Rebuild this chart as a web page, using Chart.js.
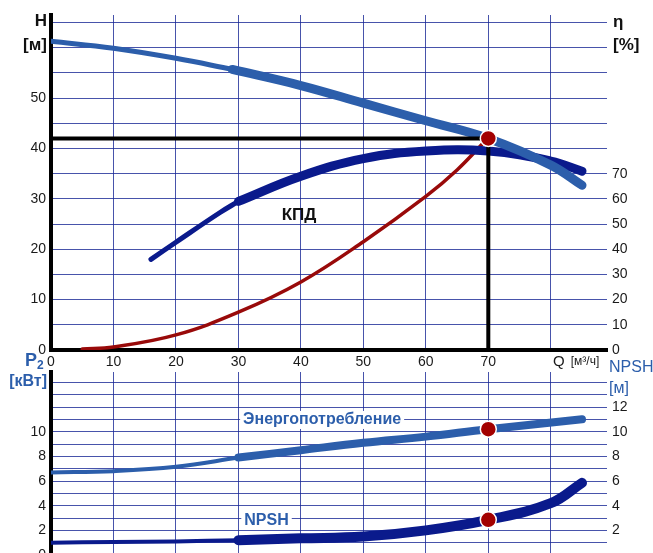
<!DOCTYPE html>
<html>
<head>
<meta charset="utf-8">
<script src="https://cdn.jsdelivr.net/npm/chart.js@4.4.0/dist/chart.umd.min.js"></script>
<style>
html, body { margin: 0; padding: 0; background: #fff; overflow: hidden; width: 653px; height: 553px; }
#topChart { position: absolute; left: 0; top: 0; }
#bottomChart { position: absolute; left: 0; top: 345px; }
</style>
</head>
<body>
<canvas id="topChart" width="653" height="375"></canvas>
<canvas id="bottomChart" width="653" height="230"></canvas>
<script>
// Flow axis (Q, m3/h)
const qMax = 89;
const qLabels = [0, 10, 20, 30, 40, 50, 60, 70];

// Head curve H(Q), m: thin start then thick working range
const headThinQ = [0, 10, 20, 29];
const headThinH = [61.3, 59.9, 57.9, 55.7];
const headQ = [29, 40, 50, 60, 70, 80, 85];
const headH = [55.7, 52.5, 49.0, 45.5, 42.0, 36.7, 32.7];

// Efficiency curve (КПД), %
const effThinQ = [16, 20, 27, 30];
const effThin = [36, 42.8, 54.5, 59];
const effQ = [30, 40, 50, 60, 70, 80, 85];
const eff = [59, 69, 76, 79, 79, 75, 71];

// Red system curve (on the % axis)
const sysQ = [5, 10, 20, 30, 40, 50, 60, 65, 69.5];
const sysV = [0.4, 1.2, 6, 15, 27, 43, 61, 71.5, 83];

// Duty point
const dutyQ = 70;
const dutyH = 42;
const dutyP = 10.2;
const dutyNpsh = 2.85;

// Power input P2, kW
const powerThinQ = [0, 10, 20, 30];
const powerThin = [6.7, 6.8, 7.15, 7.9];
const powerQ = [30, 40, 50, 60, 70, 85];
const power = [7.9, 8.5, 9.1, 9.6, 10.2, 11.0];

// NPSH, m
const npshThinQ = [0, 10, 20, 30];
const npshThin = [1.0, 1.05, 1.1, 1.2];
const npshQ = [30, 40, 50, 60, 70, 80, 85];
const npsh = [1.2, 1.35, 1.5, 2.0, 2.85, 4.2, 5.85];

const LIGHT_BLUE = '#2c5eab';
const NAVY = '#0a1a8c';
const RED = '#990a0a';
const DOT = '#a30000';
const GRID = 'rgba(25, 40, 150, 0.8)';
const FONT = '"Liberation Sans", Arial, sans-serif';

function pts(xs, ys) {
    return xs.map((x, i) => ({ x: x, y: ys[i] }));
}

function curve(data, color, width, axis, order) {
    return {
        type: 'line', data: data, yAxisID: axis, order: order,
        borderColor: color, borderWidth: width, borderCapStyle: 'round', borderJoinStyle: 'round',
        pointRadius: 0, tension: 0.4, fill: false
    };
}

function dot(q, v, axis) {
    return {
        type: 'line', data: [{ x: q, y: v }], yAxisID: axis, order: 0, showLine: false,
        pointRadius: 8, pointBackgroundColor: DOT, pointBorderColor: '#fff', pointBorderWidth: 1.5
    };
}

function xScale(showLabels, height) {
    return {
        type: 'linear', min: 0, max: qMax,
        grid: { color: GRID, lineWidth: 1, drawTicks: false },
        border: { display: showLabels, color: '#000', width: 4 },
        ticks: {
            display: showLabels, stepSize: 10, includeBounds: false, autoSkip: false, maxRotation: 0,
            padding: 4, color: '#1a1a1a', font: { family: FONT, size: 14 },
            callback: v => qLabels.includes(v) ? String(v) : ''
        },
        afterFit: s => { s.height = height; }
    };
}

function yScale(pos, max, step, showGrid, labelFn) {
    return {
        type: 'linear', position: pos, min: 0, max: max,
        grid: { display: showGrid, color: GRID, lineWidth: 1, drawTicks: false },
        border: { display: pos === 'left', color: '#000', width: 4 },
        ticks: {
            stepSize: step, includeBounds: false, autoSkip: false, padding: 5,
            color: '#1a1a1a', font: { family: FONT, size: 14 },
            callback: labelFn
        },
        afterFit: s => { s.width = pos === 'left' ? 51 : 46; }
    };
}

function boxedText(ctx, text, x, y, color) {
    const w = ctx.measureText(text).width;
    ctx.fillStyle = '#fff';
    ctx.fillRect(x - w / 2 - 3, y - 9, w + 6, 18);
    ctx.fillStyle = color;
    ctx.fillText(text, x, y);
}

const topText = {
    id: 'topText',
    afterDraw(c) {
        const ctx = c.ctx, a = c.chartArea, x = c.scales.x, y = c.scales.y;
        ctx.save();
        ctx.textBaseline = 'middle';
        ctx.fillStyle = '#111';
        ctx.font = 'bold 17px ' + FONT;
        ctx.textAlign = 'right';
        ctx.fillText('H', a.left - 4, 21);
        ctx.fillText('[м]', a.left - 4, 45);
        ctx.textAlign = 'left';
        ctx.fillText('η', a.right + 6, 22);
        ctx.fillText('[%]', a.right + 6, 45);
        ctx.textAlign = 'center';
        ctx.fillText('КПД', x.getPixelForValue(39.7), y.getPixelForValue(26.8));
        ctx.font = '15px ' + FONT;
        ctx.fillStyle = '#1a1a1a';
        ctx.fillText('Q', x.getPixelForValue(80) + 8, 362);
        ctx.font = '12px ' + FONT;
        ctx.textAlign = 'left';
        ctx.fillText('[м³/ч]', x.getPixelForValue(80) + 20, 362);
        ctx.restore();
    }
};

const bottomText = {
    id: 'bottomText',
    afterDraw(c) {
        const ctx = c.ctx, a = c.chartArea, x = c.scales.x, y = c.scales.yP;
        ctx.save();
        ctx.textBaseline = 'middle';
        ctx.fillStyle = LIGHT_BLUE;
        ctx.font = 'bold 18px ' + FONT;
        ctx.textAlign = 'right';
        ctx.fillText('P', 37, 16);
        ctx.font = 'bold 12px ' + FONT;
        ctx.textAlign = 'left';
        ctx.fillText('2', 37, 21);
        ctx.font = 'bold 16px ' + FONT;
        ctx.textAlign = 'right';
        ctx.fillText('[кВт]', a.left - 4, 37);
        ctx.font = '16px ' + FONT;
        ctx.textAlign = 'left';
        ctx.fillText('NPSH', a.right + 2, 23);
        ctx.fillText('[м]', a.right + 2, 44);
        ctx.font = 'bold 16px ' + FONT;
        ctx.textAlign = 'center';
        boxedText(ctx, 'Энергопотребление', x.getPixelForValue(43.4), y.getPixelForValue(10.95), LIGHT_BLUE);
        boxedText(ctx, 'NPSH', x.getPixelForValue(34.5), y.getPixelForValue(2.76), LIGHT_BLUE);
        ctx.restore();
    }
};

const common = {
    responsive: false, animation: false, devicePixelRatio: 1,
    plugins: { legend: { display: false }, tooltip: { enabled: false } }
};

new Chart(document.getElementById('topChart'), {
    type: 'line',
    data: {
        datasets: [
            dot(dutyQ, dutyH, 'y'),
            {
                type: 'line', yAxisID: 'y', order: 1, data: pts([0, dutyQ, dutyQ], [dutyH, dutyH, 0]),
                borderColor: '#000', borderWidth: 4, pointRadius: 0, tension: 0, fill: false
            },
            curve(pts(sysQ, sysV), RED, 3.5, 'yE', 4),
            curve(pts(headThinQ, headThinH), LIGHT_BLUE, 5, 'y', 2),
            curve(pts(headQ, headH), LIGHT_BLUE, 9, 'y', 2),
            curve(pts(effThinQ, effThin), NAVY, 5, 'yE', 3),
            curve(pts(effQ, eff), NAVY, 9, 'yE', 3)
        ]
    },
    options: Object.assign({}, common, {
        layout: { padding: { top: 15, bottom: 0, left: 0, right: 0 } },
        scales: {
            x: xScale(true, 25),
            y: yScale('left', 66.5, 5, true, v => (v % 10 === 0 && v <= 50) ? String(v) : ''),
            yE: yScale('right', 133, 10, false, v => v <= 70 ? String(v) : '')
        }
    }),
    plugins: [topText]
});

new Chart(document.getElementById('bottomChart'), {
    type: 'line',
    data: {
        datasets: [
            dot(dutyQ, dutyP, 'yP'),
            dot(dutyQ, dutyNpsh, 'yN'),
            curve(pts(powerThinQ, powerThin), LIGHT_BLUE, 4, 'yP', 2),
            curve(pts(powerQ, power), LIGHT_BLUE, 8, 'yP', 2),
            curve(pts(npshThinQ, npshThin), NAVY, 4, 'yN', 3),
            curve(pts(npshQ, npsh), NAVY, 10, 'yN', 3)
        ]
    },
    options: Object.assign({}, common, {
        layout: { padding: { top: 27, bottom: 0, left: 0, right: 0 } },
        scales: {
            x: xScale(false, 20),
            yP: yScale('left', 14.84, 1, true, v => (v % 2 === 0 && v <= 10) ? String(v) : ''),
            yN: yScale('right', 14.84, 1, false, v => (v % 2 === 0 && v >= 2 && v <= 12) ? String(v) : '')
        }
    }),
    plugins: [bottomText]
});
</script>
</body>
</html>
